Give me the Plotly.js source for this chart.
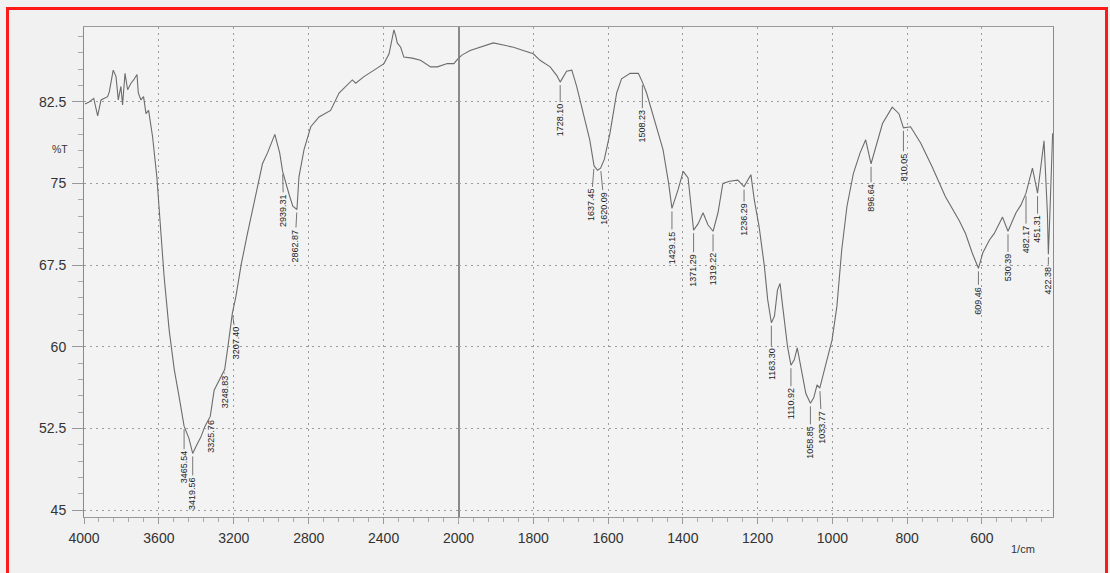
<!DOCTYPE html>
<html>
<head>
<meta charset="utf-8">
<script src="https://cdn.plot.ly/plotly-3.0.1.min.js"></script>
<style>
  html, body { margin:0; padding:0; background:#e9e9e9; overflow:hidden; }
  #wrap { position:relative; width:1110px; height:573px; }
  #chart { position:absolute; left:0; top:0; width:1110px; height:573px; }
  #frame { position:absolute; left:6px; top:7px; width:1096px; height:600px;
           border:3px solid #ff1a1a; pointer-events:none; box-sizing:content-box; }
</style>
</head>
<body>
<div id="wrap">
  <div id="chart"></div>
  <div id="frame"></div>
</div>
<script>
// ---- Data (wavenumber in 1/cm, transmittance in %T) ----
const wavenumber = [
  3995, 3975, 3948, 3927, 3909, 3892, 3874, 3865, 3844, 3829, 3817, 3803, 3794, 3781, 3767, 3749,
  3735, 3717, 3710, 3696, 3682, 3669, 3655, 3634, 3611, 3589, 3572, 3545, 3518, 3492, 3465.54, 3440,
  3419.56, 3400, 3376, 3355, 3325.76, 3305, 3269, 3248.83, 3234, 3207.40, 3189, 3160, 3127, 3083,
  3047, 3020, 2981, 2955, 2939.31, 2905, 2885, 2862.87, 2852, 2825, 2789, 2745, 2683, 2638, 2603,
  2567, 2549, 2505, 2451, 2398, 2371, 2354, 2345, 2336, 2327, 2309, 2292, 2247, 2203, 2149, 2113,
  2060, 2025, 2000, 1990, 1969, 1943, 1907, 1880, 1853, 1827, 1800, 1782, 1755, 1737, 1728.10,
  1711, 1697, 1684, 1666, 1649, 1637.45, 1628, 1620.09, 1610, 1595, 1577, 1564, 1541, 1519,
  1508.23, 1497, 1479, 1453, 1438, 1429.15, 1413, 1399, 1386, 1376, 1371.29, 1359, 1346, 1333,
  1319.22, 1306, 1293, 1275, 1253, 1236.29, 1218, 1209, 1196, 1182, 1173, 1163.30, 1155, 1147,
  1140, 1133, 1120, 1110.92, 1102, 1094, 1085, 1071, 1058.85, 1050, 1041, 1033.77, 1019, 1001,
  988, 975, 961, 944, 926, 911, 896.64, 884, 866, 840, 822, 810.05, 791, 764, 733, 698, 661, 644,
  626, 609.46, 598, 580, 567, 545, 530.39, 509, 496, 482.17, 465, 451.31, 434, 425, 422.38, 418, 411
];
const transmittance = [
  82.3, 82.45, 82.8, 81.2, 82.66, 82.8, 82.96, 83.4, 85.4, 84.8, 82.66, 83.9, 82.2, 85.1, 83.6, 84.2,
  84.5, 85.0, 83.3, 82.66, 82.96, 81.4, 81.7, 79.3, 75.6, 70.4, 66.4, 61.5, 57.9, 55.4, 52.7, 51.6,
  50.2, 50.9, 51.7, 52.66, 53.6, 56.0, 57.3, 57.9, 59.7, 63.1, 64.6, 67.6, 70.4, 74.1,
  76.8, 77.8, 79.5, 77.8, 76.1, 74.0, 72.9, 72.6, 75.6, 78.1, 80.2, 81.1, 81.7, 83.3, 83.9,
  84.5, 84.2, 84.8, 85.4, 86.0, 86.9, 88.5, 89.1, 88.6, 87.9, 87.5, 86.6, 86.5, 86.3, 85.7, 85.7,
  86.0, 86.0, 86.5, 86.8, 87.2, 87.5, 87.9, 87.7, 87.5, 87.2, 86.9, 86.3, 85.7, 84.9, 84.3,
  85.3, 85.4, 83.9, 81.4, 79.0, 76.6, 76.2, 76.4, 77.2, 79.6, 83.3, 84.6, 85.1, 85.1,
  84.3, 83.3, 81.1, 78.1, 75.0, 72.7, 74.4, 76.1, 75.5, 72.6, 70.7, 71.3, 72.3, 71.2,
  70.6, 72.3, 75.0, 75.2, 75.3, 74.7, 75.8, 73.5, 71.0, 67.4, 64.3, 62.2, 62.8, 65.2,
  65.8, 63.7, 60.0, 58.3, 58.8, 59.9, 58.2, 55.7, 54.8, 55.3, 56.5, 56.2, 58.2, 60.6,
  63.7, 68.9, 72.9, 75.9, 77.8, 79.0, 76.8, 78.4, 80.5, 82.0, 81.4, 80.1, 80.2, 78.7, 76.5, 73.8, 71.6, 70.4,
  68.6, 67.2, 68.6, 69.8, 70.4, 71.9, 70.6, 72.3, 73.0, 74.1, 76.4, 74.1, 78.9, 72.3, 68.5, 72.5, 79.6
];
const peakWavenumbers = [
  3465.54, 3419.56, 3325.76, 3248.83, 3207.40, 2939.31, 2862.87, 1728.10, 1637.45, 1620.09,
  1508.23, 1429.15, 1371.29, 1319.22, 1236.29, 1163.30, 1110.92, 1058.85, 1033.77, 896.64,
  810.05, 609.46, 530.39, 482.17, 451.31, 422.38
];
const yTickValues = [45, 52.5, 60, 67.5, 75, 82.5];
const yTickLabels = ['45', '52.5', '60', '67.5', '75', '82.5'];
const xTickLeft = [4000, 3600, 3200, 2800, 2400, 2000];
const xTickRight = [1800, 1600, 1400, 1200, 1000, 800, 600];

// ---- Style / layout settings ----
const labelDropPx  = [41, 40, 20, 22, 30, 39, 36, 38, 39, 40, 44, 39, 40, 38, 33, 41, 38, 39, 39, 34, 39, 32, 36, 46, 36, 26];
const labelShiftPx = [ 0,  0,  1,  0,  4,  1, -2,  0, -3,  4,  0,  0,  0,  0,  0,  0,  0,  0,  2,  0,  0,  0,  0,  0,  0,  0];
const SPLIT = 2000;
const gridCol = '#9c9c9c';
const lineCol = '#9a9a9a';

const leftX = [], leftY = [], rightX = [], rightY = [];
wavenumber.forEach((w, i) => {
  if (w >= SPLIT) { leftX.push(w); leftY.push(transmittance[i]); }
  if (w <= SPLIT) { rightX.push(w); rightY.push(transmittance[i]); }
});

const lineStyle = { color: '#6c6c6c', width: 1.1 };
const traces = [
  { x: leftX, y: leftY, xaxis: 'x', yaxis: 'y', type: 'scatter', mode: 'lines', line: lineStyle, hoverinfo: 'x+y' },
  { x: rightX, y: rightY, xaxis: 'x2', yaxis: 'y2', type: 'scatter', mode: 'lines', line: lineStyle, hoverinfo: 'x+y' }
];

const annotations = peakWavenumbers.map((w, k) => {
  const idx = wavenumber.indexOf(w);
  const t = transmittance[idx];
  const right = w < SPLIT;
  return {
    x: w, y: t, xref: right ? 'x2' : 'x', yref: right ? 'y2' : 'y',
    text: w.toFixed(2), textangle: -90,
    showarrow: true, arrowhead: 0, arrowwidth: 0.8, arrowcolor: '#555',
    ax: labelShiftPx[k], ay: labelDropPx[k], standoff: 3,
    font: { size: 9, color: '#222', family: 'Liberation Sans, Arial, sans-serif' }
  };
});
annotations.push({
  xref: 'paper', yref: 'paper', x: -0.035, y: 0.768, text: '%T', showarrow: false,
  font: { size: 10.5, color: '#333' }
});
annotations.push({
  xref: 'paper', yref: 'paper', x: 0.984, y: -0.082, text: '1/cm', showarrow: false,
  font: { size: 11, color: '#333' }
});

const baseX = {
  showgrid: true, gridcolor: gridCol, gridwidth: 1, griddash: '2px,4px',
  zeroline: false, showline: true, linecolor: lineCol, linewidth: 1, mirror: true,
  ticks: 'outside', ticklen: 6, tickcolor: '#999', tickwidth: 1,
  tickfont: { size: 14, color: '#333' }, ticklabelstandoff: 2, fixedrange: true
};
const baseY = {
  range: [44.36, 89.36],
  tickmode: 'array', tickvals: yTickValues, ticktext: yTickLabels,
  showgrid: true, gridcolor: gridCol, gridwidth: 1, griddash: '2px,4px',
  zeroline: false, showline: true, linecolor: '#8a8a8a', linewidth: 1, mirror: true, fixedrange: true
};
const layout = {
  width: 1110, height: 573,
  margin: { l: 84, r: 57, t: 27, b: 56 },
  paper_bgcolor: '#f1f1f1', plot_bgcolor: '#f3f3f3',
  showlegend: false,
  font: { family: 'Liberation Sans, Arial, sans-serif', color: '#333' },
  xaxis: Object.assign({}, baseX, {
    domain: [0, 0.3865], range: [4000, SPLIT], anchor: 'y',
    tickmode: 'array', tickvals: xTickLeft, ticktext: xTickLeft.map(String),
    minor: { tickmode: 'linear', tick0: 0, dtick: 80, ticks: 'outside', ticklen: 4, tickcolor: '#aaa', showgrid: false }
  }),
  xaxis2: Object.assign({}, baseX, {
    domain: [0.3865, 1], range: [SPLIT, 410], anchor: 'y2',
    tickmode: 'array', tickvals: xTickRight, ticktext: xTickRight.map(String),
    minor: { tickmode: 'linear', tick0: 0, dtick: 40, ticks: 'outside', ticklen: 4, tickcolor: '#aaa', showgrid: false }
  }),
  yaxis: Object.assign({}, baseY, {
    anchor: 'x',
    ticks: 'outside', ticklen: 11, tickcolor: '#999',
    tickfont: { size: 14, color: '#333' }, ticklabelstandoff: 3,
    minor: { tickmode: 'linear', tick0: 45, dtick: 1.5, ticks: 'outside', ticklen: 5, tickcolor: '#aaa', showgrid: false }
  }),
  yaxis2: Object.assign({}, baseY, {
    anchor: 'x2', showticklabels: false, ticks: ''
  }),
  annotations: annotations
};

Plotly.newPlot('chart', traces, layout, { displayModeBar: false, staticPlot: true });
</script>
</body>
</html>
